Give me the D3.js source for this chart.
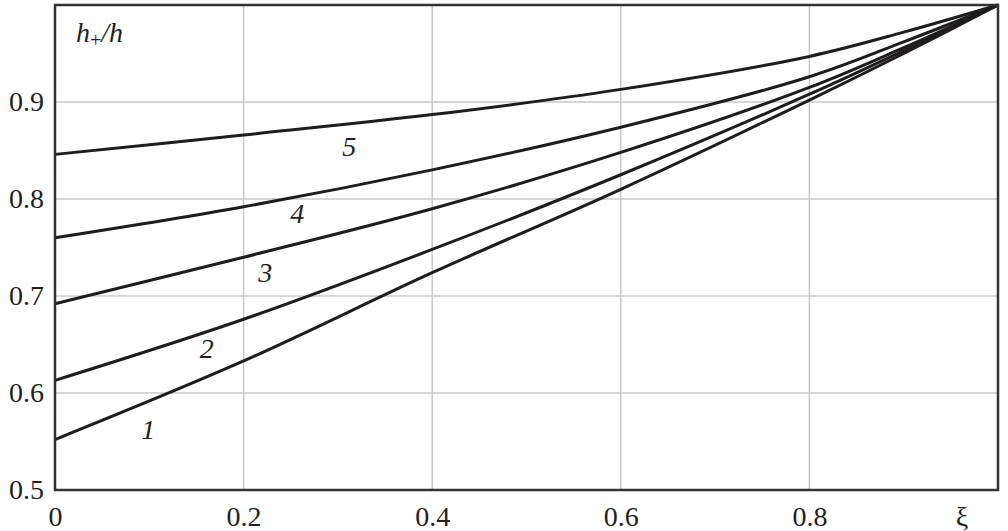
<!DOCTYPE html>
<html>
<head>
<meta charset="utf-8">
<script src="https://cdn.jsdelivr.net/npm/d3@7"></script>
<style>
  html, body { margin: 0; padding: 0; background: #fff; }
  svg { display: block; }
  svg text { font-family: "Liberation Serif", "Times New Roman", Times, "DejaVu Serif", serif; fill: #231f20; }
</style>
</head>
<body>
<svg id="chart" width="1008" height="531"></svg>
<script>
// ---- data ----
const xi = [0, 0.2, 0.4, 0.6, 0.8, 0.9, 1.0];
const curve1 = [0.552, 0.633, 0.724, 0.810, 0.902, 0.950, 1.0];
const curve2 = [0.613, 0.676, 0.748, 0.825, 0.908, 0.953, 1.0];
const curve3 = [0.692, 0.740, 0.790, 0.848, 0.915, 0.956, 1.0];
const curve4 = [0.760, 0.792, 0.830, 0.874, 0.926, 0.962, 1.0];
const curve5 = [0.846, 0.866, 0.887, 0.913, 0.947, 0.972, 1.0];
const curveNames = ["1", "2", "3", "4", "5"];
const labelXi = [0.099, 0.161, 0.223, 0.257, 0.312];
const labelV  = [0.563, 0.646, 0.725, 0.785, 0.854];
const xTicks = [0, 0.2, 0.4, 0.6, 0.8];
const xTickLabels = ["0", "0.2", "0.4", "0.6", "0.8"];
const yTicks = [0.5, 0.6, 0.7, 0.8, 0.9];
const yTickLabels = ["0.5", "0.6", "0.7", "0.8", "0.9"];
const xAxisTitle = "ξ";

const series = [curve1, curve2, curve3, curve4, curve5];
const FONT = '"Liberation Serif", "Times New Roman", Times, serif';

const svg = d3.select("#chart");
const L = 55, R = 998, T = 5, B = 490;
const x = d3.scaleLinear().domain([0, 1]).range([L, R]);
const y = d3.scaleLinear().domain([0.5, 1.0]).range([B, T]);

// grid lines
const grid = svg.append("g");
grid.selectAll("line.gx").data(xTicks.filter(d => d > 0)).enter().append("line")
  .attr("x1", d => x(d)).attr("x2", d => x(d)).attr("y1", y(0.5)).attr("y2", y(1.0))
  .attr("stroke", "#c8c8c8").attr("stroke-width", 1.5);
grid.selectAll("line.gy").data(yTicks.filter(d => d > 0.5)).enter().append("line")
  .attr("y1", d => y(d)).attr("y2", d => y(d)).attr("x1", x(0)).attr("x2", x(1))
  .attr("stroke", "#c8c8c8").attr("stroke-width", 1.5);

// curves
const line = d3.line().x(d => x(d[0])).y(d => y(d[1])).curve(d3.curveCatmullRom.alpha(0.5));
svg.append("g").selectAll("path").data(series).enter().append("path")
  .attr("d", s => line(xi.map((v, i) => [v, s[i]])))
  .attr("fill", "none").attr("stroke", "#1e1c1c").attr("stroke-width", 3);

// frame
svg.append("rect").attr("x", x(0)).attr("y", y(1.0))
  .attr("width", x(1) - x(0)).attr("height", y(0.5) - y(1.0))
  .attr("fill", "none").attr("stroke", "#333132").attr("stroke-width", 2.5);

// axes using d3 axis generators (tick lines hidden)
const xAxis = d3.axisBottom(x).tickValues(xTicks).tickFormat((d, i) => xTickLabels[i]).tickSize(0).tickPadding(16);
const gx = svg.append("g").attr("transform", `translate(0,${B})`).call(xAxis);
gx.attr("font-family", null).attr("font-size", null);
gx.select(".domain").remove();
gx.selectAll("text").style("font-size", "28px").style("font-family", FONT).style("fill", "#231f20");

const yAxis = d3.axisLeft(y).tickValues(yTicks).tickFormat((d, i) => yTickLabels[i]).tickSize(0).tickPadding(11);
const gy = svg.append("g").attr("transform", `translate(${L},0)`).call(yAxis);
gy.attr("font-family", null).attr("font-size", null);
gy.select(".domain").remove();
gy.selectAll("text").style("font-size", "28px").style("font-family", FONT).style("fill", "#231f20");

// x axis title
svg.append("text").attr("x", 962).attr("y", 526).attr("text-anchor", "middle")
  .style("font-size", "28px").style("font-family", FONT).text(xAxisTitle);

// y axis title h+/h
const yt = svg.append("text").attr("x", 76).attr("y", 42)
  .style("font-size", "28px").style("font-family", FONT).style("font-style", "italic");
yt.append("tspan").text("h");
yt.append("tspan").style("font-style", "normal").style("font-size", "20px").attr("dy", 5).text("+");
yt.append("tspan").attr("dy", -5).text("/h");

// curve labels
svg.append("g").selectAll("text").data(curveNames).enter().append("text")
  .attr("x", (d, i) => x(labelXi[i])).attr("y", (d, i) => y(labelV[i]))
  .attr("dy", "0.35em").attr("text-anchor", "middle")
  .style("font-size", "28px").style("font-family", FONT).style("font-style", "italic").text(d => d);
</script>
</body>
</html>
